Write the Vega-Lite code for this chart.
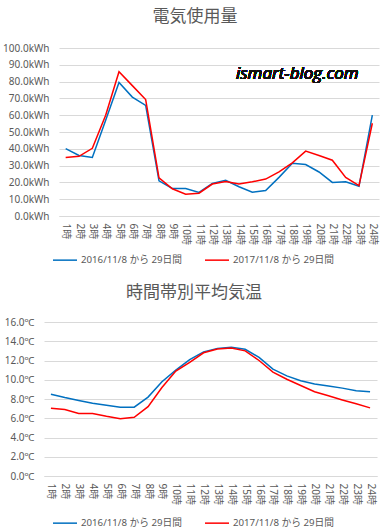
{
  "$schema": "https://vega.github.io/schema/vega-lite/v6.json",
  "background": "white",
  "padding": {"left": 0, "top": 8, "right": 6, "bottom": 4},
  "spacing": 18,
  "datasets": {
    "d": [
      {"hour": "1時", "series": "2016/11/8 から 29日間", "kwh": 40.1, "temp": 8.5},
      {"hour": "1時", "series": "2017/11/8 から 29日間", "kwh": 34.8, "temp": 7.05},
      {"hour": "2時", "series": "2016/11/8 から 29日間", "kwh": 36.0, "temp": 8.15},
      {"hour": "2時", "series": "2017/11/8 から 29日間", "kwh": 35.5, "temp": 6.9},
      {"hour": "3時", "series": "2016/11/8 から 29日間", "kwh": 34.8, "temp": 7.85},
      {"hour": "3時", "series": "2017/11/8 から 29日間", "kwh": 40.3, "temp": 6.5},
      {"hour": "4時", "series": "2016/11/8 から 29日間", "kwh": 57.0, "temp": 7.55},
      {"hour": "4時", "series": "2017/11/8 から 29日間", "kwh": 60.0, "temp": 6.5},
      {"hour": "5時", "series": "2016/11/8 から 29日間", "kwh": 79.5, "temp": 7.35},
      {"hour": "5時", "series": "2017/11/8 から 29日間", "kwh": 85.9, "temp": 6.2},
      {"hour": "6時", "series": "2016/11/8 から 29日間", "kwh": 70.8, "temp": 7.15},
      {"hour": "6時", "series": "2017/11/8 から 29日間", "kwh": 77.6, "temp": 5.95},
      {"hour": "7時", "series": "2016/11/8 から 29日間", "kwh": 65.8, "temp": 7.15},
      {"hour": "7時", "series": "2017/11/8 から 29日間", "kwh": 69.3, "temp": 6.1},
      {"hour": "8時", "series": "2016/11/8 から 29日間", "kwh": 20.9, "temp": 8.2},
      {"hour": "8時", "series": "2017/11/8 から 29日間", "kwh": 22.7, "temp": 7.2},
      {"hour": "9時", "series": "2016/11/8 から 29日間", "kwh": 16.4, "temp": 9.8},
      {"hour": "9時", "series": "2017/11/8 から 29日間", "kwh": 16.2, "temp": 9.2},
      {"hour": "10時", "series": "2016/11/8 から 29日間", "kwh": 16.4, "temp": 11.0},
      {"hour": "10時", "series": "2017/11/8 から 29日間", "kwh": 13.0, "temp": 10.9},
      {"hour": "11時", "series": "2016/11/8 から 29日間", "kwh": 14.0, "temp": 12.1},
      {"hour": "11時", "series": "2017/11/8 から 29日間", "kwh": 13.6, "temp": 11.8},
      {"hour": "12時", "series": "2016/11/8 から 29日間", "kwh": 19.4, "temp": 12.9},
      {"hour": "12時", "series": "2017/11/8 から 29日間", "kwh": 19.0, "temp": 12.8},
      {"hour": "13時", "series": "2016/11/8 から 29日間", "kwh": 21.2, "temp": 13.26},
      {"hour": "13時", "series": "2017/11/8 から 29日間", "kwh": 20.6, "temp": 13.2},
      {"hour": "14時", "series": "2016/11/8 から 29日間", "kwh": 17.4, "temp": 13.37},
      {"hour": "14時", "series": "2017/11/8 から 29日間", "kwh": 19.0, "temp": 13.3},
      {"hour": "15時", "series": "2016/11/8 から 29日間", "kwh": 14.2, "temp": 13.16},
      {"hour": "15時", "series": "2017/11/8 から 29日間", "kwh": 20.4, "temp": 13.0},
      {"hour": "16時", "series": "2016/11/8 から 29日間", "kwh": 15.2, "temp": 12.33},
      {"hour": "16時", "series": "2017/11/8 から 29日間", "kwh": 22.0, "temp": 12.0},
      {"hour": "17時", "series": "2016/11/8 から 29日間", "kwh": 23.0, "temp": 11.1},
      {"hour": "17時", "series": "2017/11/8 から 29日間", "kwh": 26.3, "temp": 10.8},
      {"hour": "18時", "series": "2016/11/8 から 29日間", "kwh": 31.4, "temp": 10.4},
      {"hour": "18時", "series": "2017/11/8 から 29日間", "kwh": 31.6, "temp": 10.05},
      {"hour": "19時", "series": "2016/11/8 から 29日間", "kwh": 30.6, "temp": 9.9},
      {"hour": "19時", "series": "2017/11/8 から 29日間", "kwh": 38.6, "temp": 9.4},
      {"hour": "20時", "series": "2016/11/8 から 29日間", "kwh": 26.2, "temp": 9.55},
      {"hour": "20時", "series": "2017/11/8 から 29日間", "kwh": 36.0, "temp": 8.75},
      {"hour": "21時", "series": "2016/11/8 から 29日間", "kwh": 20.0, "temp": 9.34},
      {"hour": "21時", "series": "2017/11/8 から 29日間", "kwh": 33.2, "temp": 8.33},
      {"hour": "22時", "series": "2016/11/8 から 29日間", "kwh": 20.4, "temp": 9.13},
      {"hour": "22時", "series": "2017/11/8 から 29日間", "kwh": 23.0, "temp": 7.9},
      {"hour": "23時", "series": "2016/11/8 から 29日間", "kwh": 17.7, "temp": 8.85},
      {"hour": "23時", "series": "2017/11/8 から 29日間", "kwh": 18.1, "temp": 7.5},
      {"hour": "24時", "series": "2016/11/8 から 29日間", "kwh": 60.0, "temp": 8.75},
      {"hour": "24時", "series": "2017/11/8 から 29日間", "kwh": 55.2, "temp": 7.08}
    ]
  },
  "config": {
    "font": "Noto Sans, Noto Sans CJK JP",
    "view": {"stroke": null},
    "title": {"fontSize": 17, "fontWeight": "normal", "color": "#595959", "font": "Noto Sans CJK JP", "anchor": "middle"},
    "axisY": {"grid": true, "gridColor": "#D9D9D9", "domain": false, "ticks": false, "labelPadding": 10, "labelColor": "#595959", "labelFontSize": 10, "title": null, "labelOverlap": false},
    "axisX": {"grid": false, "domainColor": "#D9D9D9", "ticks": false, "labelAngle": 90, "labelPadding": 7, "labelColor": "#595959", "labelFontSize": 10, "title": null, "labelOverlap": false},
    "legend": {"orient": "none", "direction": "horizontal", "title": null, "symbolType": "stroke", "symbolSize": 576, "symbolStrokeWidth": 1.5, "labelFontSize": 9.7, "labelColor": "#595959", "columnPadding": 20, "labelOffset": 3}
  },
  "resolve": {"legend": {"color": "independent"}},
  "vconcat": [
    {
      "hconcat": [
        {
          "width": 1,
          "height": 1,
          "data": {"values": [{}]},
          "mark": {"type": "point", "opacity": 0},
          "encoding": {}
        },
        {
          "width": 320,
          "height": 168,
          "title": {"text": "電気使用量", "offset": 17, "dx": -24},
          "data": {"name": "d"},
          "encoding": {
            "x": {"field": "hour", "type": "ordinal", "sort": null, "scale": {"type": "point", "padding": 0.5}},
            "y": {"field": "kwh", "type": "quantitative", "scale": {"domain": [0, 100], "nice": false, "zero": true}, "axis": {"values": [0, 10, 20, 30, 40, 50, 60, 70, 80, 90, 100], "labelExpr": "format(datum.value, '.1f') + 'kWh'", "minExtent": 59}}
          },
          "layer": [
            {
              "mark": {"type": "line", "strokeWidth": 1.5},
              "encoding": {
                "color": {"field": "series", "type": "nominal", "scale": {"domain": ["2016/11/8 から 29日間", "2017/11/8 から 29日間"], "range": ["#0070C0", "#FF0000"]}, "legend": {"legendX": -7, "legendY": 199}}
              }
            },
            {
              "mark": {"type": "text", "text": "ismart-blog.com", "fontSize": 17, "fontStyle": "italic", "fontWeight": "normal", "font": "Open Sans", "color": "#111111", "align": "left", "baseline": "middle", "dx": -3},
              "encoding": {
                "x": {"datum": "14時"},
                "y": {"datum": 84.3, "type": "quantitative", "scale": {"domain": [0, 100], "nice": false, "zero": true}, "axis": {"values": [0, 10, 20, 30, 40, 50, 60, 70, 80, 90, 100], "labelExpr": "format(datum.value, '.1f') + 'kWh'", "minExtent": 59}}
              }
            }
          ]
        }
      ],
      "spacing": 14,
      "bounds": "flush",
      "resolve": {"legend": {"color": "independent"}}
    },
    {
      "width": 333,
      "height": 154,
      "title": {"text": "時間帯別平均気温", "offset": 15.5, "dx": -16.5},
      "data": {"name": "d"},
      "mark": {"type": "line", "strokeWidth": 1.5},
      "encoding": {
        "x": {"field": "hour", "type": "ordinal", "sort": null, "scale": {"type": "point", "padding": 0.5}},
        "y": {"field": "temp", "type": "quantitative", "scale": {"domain": [0, 16], "nice": false}, "axis": {"values": [0, 2, 4, 6, 8, 10, 12, 14, 16], "labelExpr": "format(datum.value, '.1f') + '℃'", "minExtent": 44}},
        "color": {"field": "series", "type": "nominal", "scale": {"domain": ["2016/11/8 から 29日間", "2017/11/8 から 29日間"], "range": ["#0070C0", "#FF0000"]}, "legend": {"legendX": 8, "legendY": 188}}
      }
    }
  ]
}
